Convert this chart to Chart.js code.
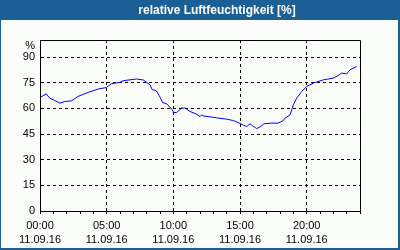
<!DOCTYPE html>
<html>
<head>
<meta charset="utf-8">
<script src="https://cdn.jsdelivr.net/npm/chart.js@4.4.0/dist/chart.umd.min.js"></script>
<style>
  html, body { margin: 0; padding: 0; background: #fbfdfb; }
  #wrap { width: 400px; height: 250px; }
</style>
</head>
<body>
<div id="wrap"><canvas id="humChart" width="400" height="250"></canvas></div>
<script>
const chartTitle = "relative Luftfeuchtigkeit [%]";
const dateLabel = "11.09.16";

// hours since 00:00 and relative humidity in %
const hours = [0.05, 0.47, 0.73, 1.1, 1.5, 1.85, 2.35, 2.85, 3.6, 4.35, 4.97, 5.35, 5.98, 6.23,
  7.25, 7.75, 8.25, 8.42, 8.7, 8.95, 9.2, 9.5, 9.88, 10.05, 10.25, 10.63, 10.88, 11.25, 11.7,
  12.0, 12.12, 12.25, 13.25, 14.0, 14.5, 14.95, 15.25, 15.5, 15.75, 15.95, 16.25, 16.55, 16.8,
  17.38, 17.87, 18.25, 18.38, 18.75, 18.88, 19.0, 19.25, 19.63, 20.0, 20.5, 21.25, 22.0,
  22.38, 22.63, 23.0, 23.25, 23.75];
const humidity = [66.6, 68.5, 66, 64.6, 63.1, 64, 64.4, 67, 69.3, 71.3, 72.2, 74.4, 75.2, 76.2,
  77.2, 76.6, 73.8, 70.9, 70.5, 67.4, 63.4, 62.7, 59.6, 57.6, 57.6, 60.2, 60.2, 58.2, 56.8,
  55.2, 56.2, 55.6, 54.5, 53.7, 52.9, 51.4, 50.2, 49.4, 51, 49.8, 48.2, 49.4, 51,
  51.4, 51.4, 52.9, 54.3, 56.2, 59.2, 62.1, 66, 69.9, 72.8, 74.8, 76.7, 77.7,
  79.3, 80.7, 80.1, 82.6, 84.5];

const yTicks = [0, 15, 30, 45, 60, 75, 90];
const xTimeLabels = ["00:00", "05:00", "10:00", "15:00", "20:00"];

const blue = "#1c5f94";

// frame, title bar and the "%" unit label
const framePlugin = {
  id: "frame",
  beforeDraw(chart) {
    const c = chart.ctx;
    c.save();
    c.fillStyle = "#fbfdfb";
    c.fillRect(0, 0, 400, 250);
    c.fillStyle = blue;
    c.fillRect(0, 0, 400, 20);
    c.fillRect(0, 0, 1, 250);
    c.fillRect(398, 0, 2, 250);
    c.fillRect(0, 248, 400, 2);
    c.fillStyle = "#ffffff";
    c.font = "bold 12px 'Liberation Sans', sans-serif";
    c.textAlign = "center";
    c.textBaseline = "middle";
    c.fillText(chartTitle, 217, 10.5);
    c.restore();
  },
  afterDraw(chart) {
    const c = chart.ctx;
    const a = chart.chartArea;
    c.save();
    c.strokeStyle = "#000";
    c.lineWidth = 1;
    c.beginPath();
    c.moveTo(a.left, a.top + 0.5);
    c.lineTo(a.right + 0.5, a.top + 0.5);
    c.lineTo(a.right + 0.5, a.bottom);
    c.stroke();
    c.fillStyle = "#000";
    c.font = "11px 'Liberation Sans', sans-serif";
    c.textAlign = "right";
    c.textBaseline = "middle";
    c.fillText("%", a.left - 5, chart.scales.y.getPixelForValue(100) + 6);
    c.restore();
  }
};

const ctx = document.getElementById("humChart").getContext("2d");

new Chart(ctx, {
  type: "line",
  data: {
    datasets: [{
      data: hours.map((h, i) => ({ x: h, y: humidity[i] })),
      borderColor: "#0000ff",
      borderWidth: 1,
      pointRadius: 0,
      tension: 0,
      fill: false
    }]
  },
  options: {
    responsive: false,
    animation: false,
    devicePixelRatio: 1,
    layout: { padding: { top: 40, right: 40, left: 0, bottom: 0 } },
    plugins: {
      legend: { display: false },
      tooltip: { enabled: false }
    },
    scales: {
      x: {
        type: "linear",
        min: 0,
        max: 24,
        afterFit(scale) { scale.height = 39; },
        afterBuildTicks(scale) {
          scale.ticks = [];
          for (let h = 0; h <= 24; h++) scale.ticks.push({ value: h });
        },
        ticks: {
          autoSkip: false,
          maxRotation: 0,
          padding: 5,
          color: "#000",
          font: { family: "'Liberation Sans', sans-serif", size: 11, lineHeight: 1.3 },
          callback: (v) => (v % 5 === 0 && v < 24) ? [xTimeLabels[v / 5], dateLabel] : ""
        },
        grid: {
          color: (c) => (c.tick && c.tick.value % 5 === 0 && c.tick.value > 0 && c.tick.value < 24) ? "#000" : "rgba(0,0,0,0)",
          tickColor: "#000",
          tickLength: 3,
          drawOnChartArea: true
        },
        border: { display: true, color: "#000", width: 1, dash: [3, 3] }
      },
      y: {
        min: 0,
        max: 100,
        afterFit(scale) { scale.width = 40; },
        afterBuildTicks(scale) {
          scale.ticks = yTicks.map(v => ({ value: v }));
        },
        ticks: {
          padding: 5,
          color: "#000",
          font: { family: "'Liberation Sans', sans-serif", size: 11 }
        },
        grid: {
          color: (c) => (c.tick && c.tick.value > 0) ? "#000" : "rgba(0,0,0,0)",
          drawTicks: false
        },
        border: { display: true, color: "#000", width: 1, dash: [3, 3] }
      }
    }
  },
  plugins: [framePlugin]
});
</script>
</body>
</html>
